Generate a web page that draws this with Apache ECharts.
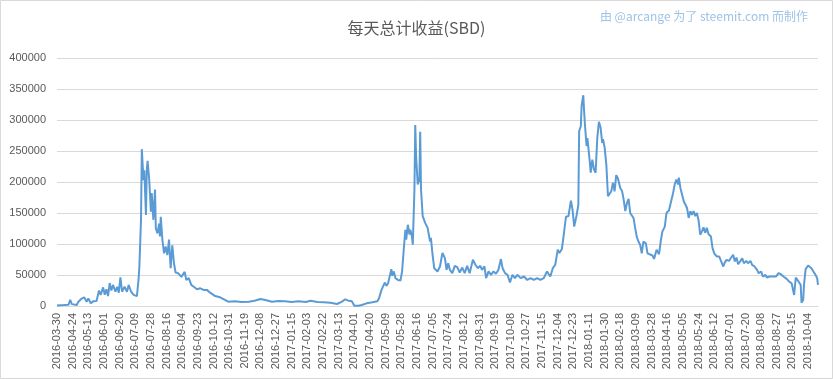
<!DOCTYPE html>
<html>
<head>
<meta charset="utf-8">
<script src="https://cdn.jsdelivr.net/npm/echarts@6/dist/echarts.min.js"></script>
<style>
html,body{margin:0;padding:0;background:#fff;}
#chart{width:833px;height:379px;}
</style>
</head>
<body>
<div id="chart"></div>
<script>
// Category dates: 2016-03-30, then daily from 2016-04-06 to 2018-10-16
const categories = ['2016-03-30'];
(function(){
  let d = Date.UTC(2016, 3, 6);
  const end = Date.UTC(2018, 9, 16);
  while (d <= end) {
    categories.push(new Date(d).toISOString().slice(0, 10));
    d += 86400000;
  }
})();

const sampleDay = [
0,8,14,16,18,20,24,26,30,33,36,38,41,44,48,51,53,56,58,60,62,64,66,68,71,73,75,77,79,82,85,87,90,93,97,99,100,101,102,103,105,106,108,109,110,112,114,115,117,119,120,122,124,125,126,128,130,132,134,136,138,140,142,144,147,151,155,157,160,163,166,170,174,178,182,186,192,198,204,208,216,224,233,241,247,253,261,269,277,285,293,302,308,
316,324,332,340,346,350,354,358,361,366,370,376,383,389,391,394,396,398,400,402,404,406,407,409,411,414,417,419,421,423,424,426,428,429,431,432,434,435,436,438,440,441,442,444,447,450,453,454,456,458,462,465,468,471,473,475,477,480,483,486,489,492,495,498,501,505,508,511,514,516,519,521,524,527,530,533,536,539,541,544,547,550,553,556,559,563,567,571,575,579,583,587,591,595,599,602,605,608,610,613,615,618,
621,624,626,628,631,633,634,636,637,639,640,641,643,644,645,647,648,650,652,654,656,658,660,662,663,665,667,669,671,673,675,677,679,681,684,686,688,690,692,694,696,698,700,702,704,706,708,710,712,715,717,719,723,725,728,731,733,735,738,740,743,745,748,750,752,754,755,757,759,761,763,765,767,769,771,773,775,777,779,781,783,785,787,789,791,794,796,798,801,804,806,809,811,813,816,818,821,823,825,827,830,832,834,837,839,842,844,847,850,852,855,857,860,862,865,867,869,873,876,879,882,886,889,892,894,895,897,899,901,903,904,906,907,909,912,914,916,919,921,923,924
];
const sampleValue = [
1000,1500,2000,10000,3000,4000,1600,7000,12000,14000,7000,12000,4300,7500,8000,25000,18000,30000,18000,27000,16000,37000,25000,34000,23000,31000,21500,46000,23000,31000,23000,34000,23000,18000,16000,42000,63000,61000,139000,253000,203000,219000,147000,219000,234000,203000,152000,182000,139000,188000,125000,117000,133000,112000,144000,106000,85000,96000,82000,107000,61000,98000,69000,54000,53000,47000,55000,42000,45000,34000,31000,27000,28500,26000,26000,21500,16000,14000,9700,7000,7500,6500,7000,9000,11300,9700,7000,8000,7500,6500,7500,6500,8600,
6500,6000,5400,3200,7000,10800,8600,7500,500,300,1600,4300,6000,7500,12400,26000,28600,37800,32400,36700,34000,59500,48600,55700,44900,42000,41000,55700,90800,123000,107000,131000,115000,123000,112000,99000,188000,292000,242000,196000,204000,281000,188000,145000,134000,126000,104000,110000,82700,61000,55700,63800,85400,77300,58400,69000,58400,53000,64800,62700,54000,62000,53000,64800,53000,74600,66500,61000,64800,58400,63800,44900,55700,50300,55700,51900,58400,75700,61000,53000,50300,37800,50300,44900,50300,44900,47600,42000,44900,42000,44900,42000,44900,55700,47600,61000,66500,90800,85400,91900,112000,144000,
145000,170000,155000,128000,147000,163000,282000,290000,323000,340000,315000,293000,258000,271000,258000,231000,215000,236000,220000,215000,271000,297000,288000,263000,269000,255000,228000,177000,180000,185000,199000,185000,211000,206000,190000,186000,172000,153000,166000,173000,150000,152000,142000,126000,111000,104000,99000,85000,104000,101000,85000,88000,81500,76000,90700,83600,104000,120000,128000,150000,154000,155000,182000,196000,204000,196000,207000,190000,190000,169000,172000,158000,142000,153000,147000,153000,145000,150000,138000,115000,120000,127000,118000,126000,116000,112000,93000,85000,80000,80000,77000,63700,70700,74500,72800,77000,82600,71800,78200,67500,72800,77000,69000,72800,69000,72800,66400,63700,58300,52900,55600,47500,50200,45900,47500,44800,47500,47500,52900,51300,47500,43700,39400,36700,35100,17800,45900,42100,38300,34000,5400,9700,34000,59400,65300,66400,61000,54500,50200,44800,34000
];

const yTicks = { min: 0, max: 400000, interval: 50000 };
const titleText = '每天总计收益(SBD)';
const creditText = '由 @arcange 为了 steemit.com 而制作';

const seriesData = sampleDay.map((d, k) => [d, sampleValue[k]]);

const chart = echarts.init(document.getElementById('chart'), null, { renderer: 'canvas' });
chart.setOption({
  backgroundColor: '#fff',
  animation: false,
  title: {
    text: titleText,
    left: 'center',
    top: 15,
    textStyle: { fontFamily: 'Noto Sans CJK SC', fontSize: 16, fontWeight: 'normal', color: '#595959' }
  },
  graphic: [
    { type: 'rect', shape: { x: 0.5, y: 0.5, width: 832, height: 378 },
      style: { fill: 'none', stroke: '#d9d9d9', lineWidth: 1 }, silent: true },
    { type: 'text', right: 25, top: 10,
      style: { text: creditText, fill: '#9dc3e6', font: '12px "Noto Sans CJK SC"' } }
  ],
  grid: { left: 57, right: 15, top: 58, bottom: 73, containLabel: false },
  xAxis: {
    type: 'category',
    data: categories,
    boundaryGap: false,
    axisLine: { lineStyle: { color: '#d9d9d9', width: 1 } },
    axisTick: { show: false },
    axisLabel: { interval: 18, rotate: 90, fontSize: 11, color: '#595959', fontFamily: 'Liberation Sans', margin: 7 },
    splitLine: { show: false }
  },
  yAxis: {
    type: 'value',
    min: yTicks.min, max: yTicks.max, interval: yTicks.interval,
    axisLine: { show: false },
    axisTick: { show: false },
    axisLabel: { fontSize: 11, color: '#595959', fontFamily: 'Liberation Sans', margin: 11,
      formatter: v => String(v) },
    splitLine: { lineStyle: { color: '#d9d9d9', width: 1 } }
  },
  series: [{
    type: 'line',
    data: seriesData,
    showSymbol: false,
    symbol: 'none',
    lineStyle: { color: '#5b9bd5', width: 2 },
    itemStyle: { color: '#5b9bd5' }
  }]
});
</script>
</body>
</html>
